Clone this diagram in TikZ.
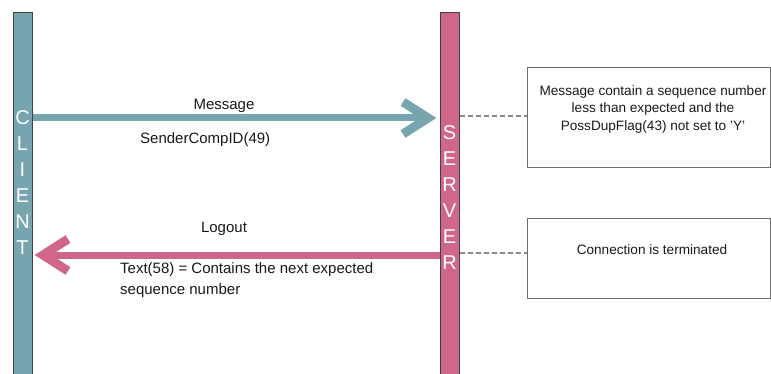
\documentclass[tikz,border=0pt]{standalone}
\usepackage{fontspec}
\setmainfont{Liberation Sans}
\usetikzlibrary{calc}
\definecolor{tealbar}{HTML}{76A5AF}
\definecolor{pinkbar}{HTML}{D0668A}
\definecolor{tealline}{HTML}{76A5AF}
\definecolor{pinkline}{HTML}{D0668A}
\definecolor{boxline}{HTML}{6E6E6E}
\definecolor{dashgrey}{HTML}{8A8A8A}
\begin{document}
\begin{tikzpicture}[x=1pt,y=-1pt,
  lifebar/.style={draw=black!75,line width=1.2pt,inner sep=0pt,anchor=north west,minimum width=19pt,minimum height=370pt},
  barletters/.style={text=white,align=center,inner sep=0pt,font=\fontsize{20}{26}\selectfont},
  lbl/.style={inner sep=0pt,font=\fontsize{15}{21}\selectfont,text=black!90},
  notebox/.style={draw=boxline,line width=1.1pt,inner sep=0pt,anchor=north west,minimum width=243pt},
  notetext/.style={inner sep=0pt,align=center,font=\fontsize{13.6}{17.5}\selectfont,text=black!90},
  msgarrow/.style={line width=7pt,draw=tealline},
  msghead/.style={line width=9pt,draw=tealline,miter limit=10},
  logarrow/.style={line width=7pt,draw=pinkline},
  loghead/.style={line width=9pt,draw=pinkline,miter limit=10},
  linkdash/.style={draw=dashgrey,line width=1.2pt,dash pattern=on 5pt off 3pt}
]
\useasboundingbox (0,0) rectangle (771,374);

% lifelines
\node[lifebar,fill=tealbar] (client) at (13,12) {};
\node[lifebar,fill=pinkbar] (server) at (440,12) {};
\node[barletters] (clientname) at (22.5,183) {C\\L\\I\\E\\N\\T};
\node[barletters] (servername) at (449.5,197.5) {S\\E\\R\\V\\E\\R};

% message arrow (client -> server)
\coordinate (msgstart) at (client.east |- 0,118);
\coordinate (msgtip) at (428,118);
\draw[msgarrow] (msgstart) -- (msgtip);
\draw[msghead] ($(msgtip)+(-25,-16)$) -- (msgtip) -- ($(msgtip)+(-25,16)$);
\node[lbl] (msglabel) at (224,106) {Message};
\node[lbl,anchor=west] (msgfield) at (140,140) {SenderCompID(49)};

% logout arrow (server -> client)
\coordinate (logstart) at (server.west |- 0,255);
\coordinate (logtip) at (43,255);
\draw[logarrow] (logstart) -- (logtip);
\draw[loghead] ($(logtip)+(25,-16)$) -- (logtip) -- ($(logtip)+(25,16)$);
\node[lbl] (loglabel) at (224,229) {Logout};
\node[lbl,anchor=north west,align=left] (logfield) at (120,262) {Text(58) = Contains the next expected\\sequence number};

% notes
\node[notebox,minimum height=100pt] (note1) at (527,67) {};
\node[notebox,minimum height=80pt] (note2) at (527,218) {};
\node[notetext] (note1text) at (653,109) {Message contain a sequence number\\less than expected and the\\PossDupFlag(43) not set to 'Y'};
\node[notetext] (note2text) at (652,250) {Connection is terminated};

\draw[linkdash] (server.east |- 0,116) -- (note1.west |- 0,116);
\draw[linkdash] (server.east |- 0,253) -- (note2.west |- 0,253);
\end{tikzpicture}
\end{document}
